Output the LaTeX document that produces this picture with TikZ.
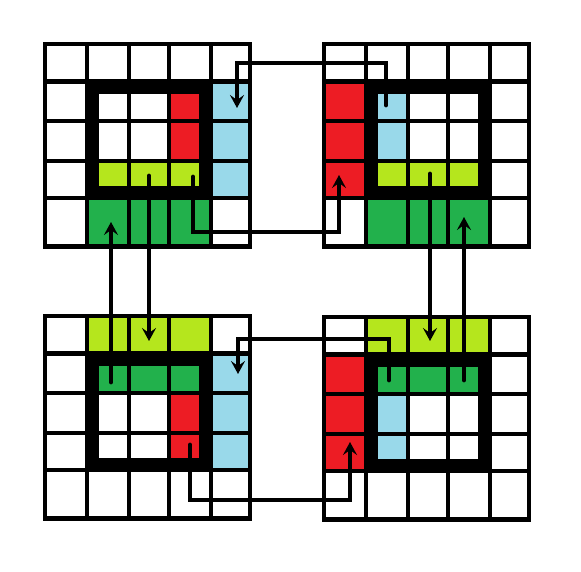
\documentclass[tikz,border=0pt]{standalone}
\usetikzlibrary{arrows.meta}
\definecolor{pred}{RGB}{237,28,36}
\definecolor{pblue}{RGB}{153,217,234}
\definecolor{plime}{RGB}{181,230,29}
\definecolor{pgreen}{RGB}{34,177,76}
\tikzset{
  gridline/.style={line width=4.8pt, line cap=rect, black},
  framebox/.style={line width=14pt, black},
  conn/.style={line width=4.8pt, line cap=round, line join=miter, black,
    -{Stealth[length=13pt,width=14pt,inset=5pt]}},
}
\newcommand\cellfill[3]{%
  \pgfmathsetmacro\xa{{0,42,84,124,166,205}[#2]}%
  \pgfmathsetmacro\xb{{0,42,84,124,166,205}[#2+1]}%
  \pgfmathsetmacro\ya{{0,37.5,77,117,154,202.5}[#3]}%
  \pgfmathsetmacro\yb{{0,37.5,77,117,154,202.5}[#3+1]}%
  \fill[#1] (\xa,\ya) rectangle (\xb,\yb);}
\newcommand\gridframe{%
  \foreach \gx in {0,42,84,124,166,205} \draw[gridline] (\gx,0) -- (\gx,202.5);
  \foreach \gy in {0,37.5,77,117,154,202.5} \draw[gridline] (0,\gy) -- (205,\gy);
  \draw[framebox] (47,42.5) rectangle (161,149);}
\begin{document}
\begin{tikzpicture}[x=1pt,y=-1pt]
\useasboundingbox (0,0) rectangle (581,571);
\fill[white] (0,0) rectangle (581,571);
% top left
\begin{scope}[shift={(45,44)}]
  \cellfill{pred}{3}{1}\cellfill{pred}{3}{2}
  \cellfill{pblue}{4}{1}\cellfill{pblue}{4}{2}\cellfill{pblue}{4}{3}
  \cellfill{plime}{1}{3}\cellfill{plime}{2}{3}\cellfill{plime}{3}{3}
  \cellfill{pgreen}{1}{4}\cellfill{pgreen}{2}{4}\cellfill{pgreen}{3}{4}
  \gridframe
\end{scope}
% top right
\begin{scope}[shift={(324,44)}]
  \cellfill{pred}{0}{1}\cellfill{pred}{0}{2}\cellfill{pred}{0}{3}
  \cellfill{pblue}{1}{1}\cellfill{pblue}{1}{2}
  \cellfill{plime}{1}{3}\cellfill{plime}{2}{3}\cellfill{plime}{3}{3}
  \cellfill{pgreen}{1}{4}\cellfill{pgreen}{2}{4}\cellfill{pgreen}{3}{4}
  \gridframe
\end{scope}
% bottom left
\begin{scope}[shift={(45,316)}]
  \cellfill{plime}{1}{0}\cellfill{plime}{2}{0}\cellfill{plime}{3}{0}
  \cellfill{pgreen}{1}{1}\cellfill{pgreen}{2}{1}\cellfill{pgreen}{3}{1}
  \cellfill{pblue}{4}{1}\cellfill{pblue}{4}{2}\cellfill{pblue}{4}{3}
  \cellfill{pred}{3}{2}\cellfill{pred}{3}{3}
  \gridframe
\end{scope}
% bottom right
\begin{scope}[shift={(324,317)}]
  \cellfill{plime}{1}{0}\cellfill{plime}{2}{0}\cellfill{plime}{3}{0}
  \cellfill{pred}{0}{1}\cellfill{pred}{0}{2}\cellfill{pred}{0}{3}
  \cellfill{pgreen}{1}{1}\cellfill{pgreen}{2}{1}\cellfill{pgreen}{3}{1}
  \cellfill{pblue}{1}{2}\cellfill{pblue}{1}{3}
  \gridframe
\end{scope}
% connector points
\coordinate (a1s) at (386,105); \coordinate (a1p) at (386,63);
\coordinate (a1q) at (237,63);  \coordinate (a1e) at (237,108);
\coordinate (a2s) at (193,177); \coordinate (a2p) at (193,232);
\coordinate (a2q) at (339,232); \coordinate (a2e) at (339,175);
\coordinate (a3s) at (111,382); \coordinate (a3e) at (111,222);
\coordinate (a4s) at (149,176); \coordinate (a4e) at (149,341);
\coordinate (a5s) at (430,174); \coordinate (a5e) at (430,341);
\coordinate (a6s) at (464,380); \coordinate (a6e) at (464,217);
\coordinate (a7s) at (389,380); \coordinate (a7p) at (389,339);
\coordinate (a7q) at (238,339); \coordinate (a7e) at (238,374);
\coordinate (a8s) at (190,445); \coordinate (a8p) at (190,500);
\coordinate (a8q) at (350,500); \coordinate (a8e) at (350,442);
\draw[conn] (a1s) -- (a1p) -- (a1q) -- (a1e);
\draw[conn] (a2s) -- (a2p) -- (a2q) -- (a2e);
\draw[conn] (a3s) -- (a3e);
\draw[conn] (a4s) -- (a4e);
\draw[conn] (a5s) -- (a5e);
\draw[conn] (a6s) -- (a6e);
\draw[conn] (a7s) -- (a7p) -- (a7q) -- (a7e);
\draw[conn] (a8s) -- (a8p) -- (a8q) -- (a8e);
\end{tikzpicture}
\end{document}
